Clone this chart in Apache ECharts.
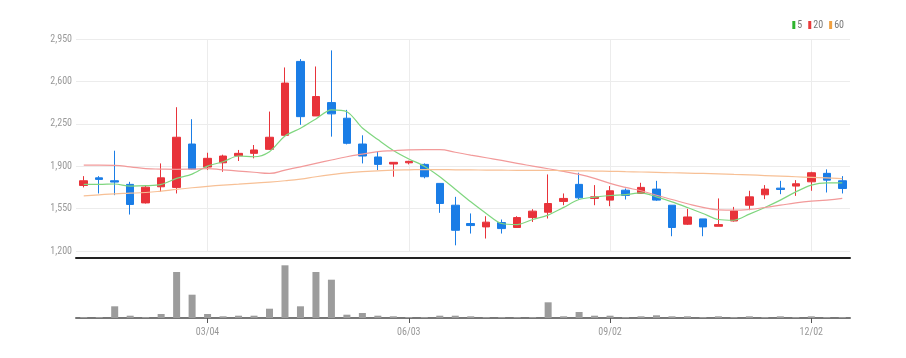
<!DOCTYPE html>
<html>
<head>
<meta charset="utf-8">
<script src="https://cdn.jsdelivr.net/npm/echarts@6/dist/echarts.min.js"></script>
<style>
html,body{margin:0;padding:0;background:#fff;}
#chart{width:906px;height:358px;}
</style>
</head>
<body>
<div id="chart"></div>
<script>
var dates = ['01/08','01/15','01/22','01/29','02/05','02/12','02/19','02/26','03/04','03/11','03/18','03/25','04/01','04/08','04/15','04/22','04/29','05/06','05/13','05/20','05/27','06/03','06/10','06/17','06/24','07/01','07/08','07/15','07/22','07/29','08/05','08/12','08/19','08/26','09/02','09/09','09/16','09/23','09/30','10/07','10/14','10/21','10/28','11/04','11/11','11/18','11/25','12/02','12/09','12/16'];
var tickLabels = ['03/04','06/03','09/02','12/02'];
var yTicks = [1200, 1550, 1900, 2250, 2600, 2950];

var openP  = [1741,1804,1780,1750,1597,1730,1725,2083,1893,1928,1986,2006,2039,2155,2765,2315,2425,2296,2083,1976,1918,1928,1915,1758,1578,1427,1399,1435,1394,1476,1520,1609,1750,1634,1620,1702,1675,1711,1578,1421,1465,1404,1448,1578,1664,1719,1736,1771,1841,1780];
var closeP = [1780,1791,1769,1584,1727,1804,2139,1876,1965,1984,2006,2034,2139,2586,2309,2475,2332,2089,1984,1915,1932,1940,1813,1592,1371,1410,1438,1385,1476,1529,1592,1634,1639,1647,1697,1659,1725,1620,1394,1481,1399,1418,1531,1647,1711,1708,1755,1846,1785,1716];
var lowP   = [1725,1675,1661,1501,1592,1688,1675,1872,1868,1854,1943,1965,2035,2150,2241,2315,2144,2080,1923,1868,1813,1915,1800,1515,1247,1344,1303,1344,1390,1440,1468,1578,1625,1578,1570,1625,1675,1614,1322,1415,1322,1404,1443,1537,1628,1669,1655,1697,1683,1675];
var highP  = [1818,1818,2028,1771,1736,1923,2387,2288,2011,1995,2034,2075,2351,2715,2784,2723,2856,2365,2155,2020,1932,1945,1923,1758,1647,1510,1487,1460,1487,1545,1832,1675,1846,1744,1736,1716,1763,1779,1578,1548,1465,1634,1564,1697,1744,1779,1785,1854,1874,1818];

var ma5  = [1750,1750,1753,1736,1739,1750,1799,1835,1901,1937,1984,1978,2020,2150,2213,2290,2365,2350,2215,2120,2030,1960,1900,1813,1710,1606,1510,1427,1418,1460,1496,1560,1625,1645,1658,1665,1680,1647,1606,1559,1510,1460,1454,1504,1559,1620,1688,1744,1763,1763];
var ma20 = [1909,1909,1907,1895,1880,1876,1874,1876,1880,1870,1860,1850,1841,1868,1895,1923,1951,1978,2000,2020,2028,2034,2036,2036,2015,1992,1970,1948,1923,1901,1879,1857,1832,1799,1758,1725,1697,1660,1625,1590,1560,1540,1537,1543,1559,1578,1597,1611,1620,1634];
var ma60 = [1655,1664,1672,1677,1683,1694,1708,1722,1734,1744,1752,1761,1769,1780,1794,1813,1830,1845,1856,1862,1867,1870,1872,1872,1870,1869,1868,1867,1866,1866,1865,1864,1862,1860,1858,1855,1852,1849,1846,1843,1840,1836,1832,1828,1823,1818,1813,1808,1803,1798];
var volume = [1000,1000,11700,2300,1000,4000,46000,23300,4000,1700,2300,2300,9300,52700,11700,46000,38300,3300,5000,2300,1700,1000,1000,2300,2300,1700,1000,1000,1000,1000,15700,1700,6000,2300,2300,1000,1700,2700,1700,1700,1000,1700,1000,1700,1000,1700,1000,1700,1000,1000];

var FONT = "'Liberation Sans Narrow','Arial Narrow','Roboto Condensed',sans-serif";
var showTick = function (idx, val) { return tickLabels.indexOf(dates[idx]) >= 0; };

var ohlc = dates.map(function (d, i) { return [openP[i], closeP[i], lowP[i], highP[i]]; });

var chart = echarts.init(document.getElementById('chart'), null, {renderer: 'canvas'});
chart.setOption({
  animation: false,
  backgroundColor: '#fff',
  legend: {
    right: 62, top: 20, padding: 0,
    itemWidth: 3, itemHeight: 8, itemGap: 6,
    icon: 'rect',
    data: ['5', '20', '60'],
    textStyle: {fontSize: 10, color: '#777', fontFamily: FONT, padding: [0,0,0,-3]}
  },
  grid: [
    {left: 76, right: 56, top: 39, height: 212},
    {left: 76, right: 56, top: 262, bottom: 40}
  ],
  xAxis: [
    {
      type: 'category', gridIndex: 0, data: dates, boundaryGap: true,
      offset: 7,
      axisLine: {show: true, lineStyle: {color: '#222', width: 2}},
      axisTick: {show: false},
      axisLabel: {show: false},
      splitLine: {show: true, interval: showTick, alignWithLabel: true, lineStyle: {color: '#ececec', width: 1}}
    },
    {
      type: 'category', gridIndex: 1, data: dates, boundaryGap: true,
      axisLine: {show: true, lineStyle: {color: '#777', width: 2}},
      axisTick: {show: true, interval: showTick, alignWithLabel: true, length: 5, lineStyle: {color: '#555'}},
      axisLabel: {interval: showTick, fontSize: 10, color: '#999', fontFamily: FONT, margin: 9},
      splitLine: {show: false}
    }
  ],
  yAxis: [
    {
      type: 'value', gridIndex: 0, min: yTicks[0], max: yTicks[yTicks.length - 1], interval: 350,
      axisLine: {show: false}, axisTick: {show: false},
      axisLabel: {fontSize: 10, color: '#999', fontFamily: FONT, margin: 4,
        formatter: function (v) { return v.toLocaleString('en-US'); }},
      splitLine: {lineStyle: {color: '#ececec', width: 1}}
    },
    {
      type: 'value', gridIndex: 1, min: 0, max: 56000,
      show: false, splitLine: {show: false}
    }
  ],
  series: [
    {
      name: 'candle', type: 'candlestick', xAxisIndex: 0, yAxisIndex: 0,
      data: ohlc, barWidth: 8,
      itemStyle: {color: '#e8333a', color0: '#1a7de6', borderColor: '#e8333a', borderColor0: '#1a7de6', borderWidth: 1}
    },
    {
      name: '5', type: 'line', xAxisIndex: 0, yAxisIndex: 0, data: ma5,
      smooth: 0.3, symbol: 'none',
      itemStyle: {color: '#2fb52f'},
      lineStyle: {color: '#7fd67f', width: 1.2}
    },
    {
      name: '20', type: 'line', xAxisIndex: 0, yAxisIndex: 0, data: ma20,
      smooth: 0.5, symbol: 'none',
      itemStyle: {color: '#e83c3c'},
      lineStyle: {color: '#f29a9a', width: 1.2}
    },
    {
      name: '60', type: 'line', xAxisIndex: 0, yAxisIndex: 0, data: ma60,
      smooth: 0.5, symbol: 'none',
      itemStyle: {color: '#f0a040'},
      lineStyle: {color: '#f7c096', width: 1.2}
    },
    {
      name: 'volume', type: 'bar', xAxisIndex: 1, yAxisIndex: 1, data: volume,
      barWidth: 7,
      itemStyle: {color: '#9c9c9c'}
    }
  ]
});
</script>
</body>
</html>
